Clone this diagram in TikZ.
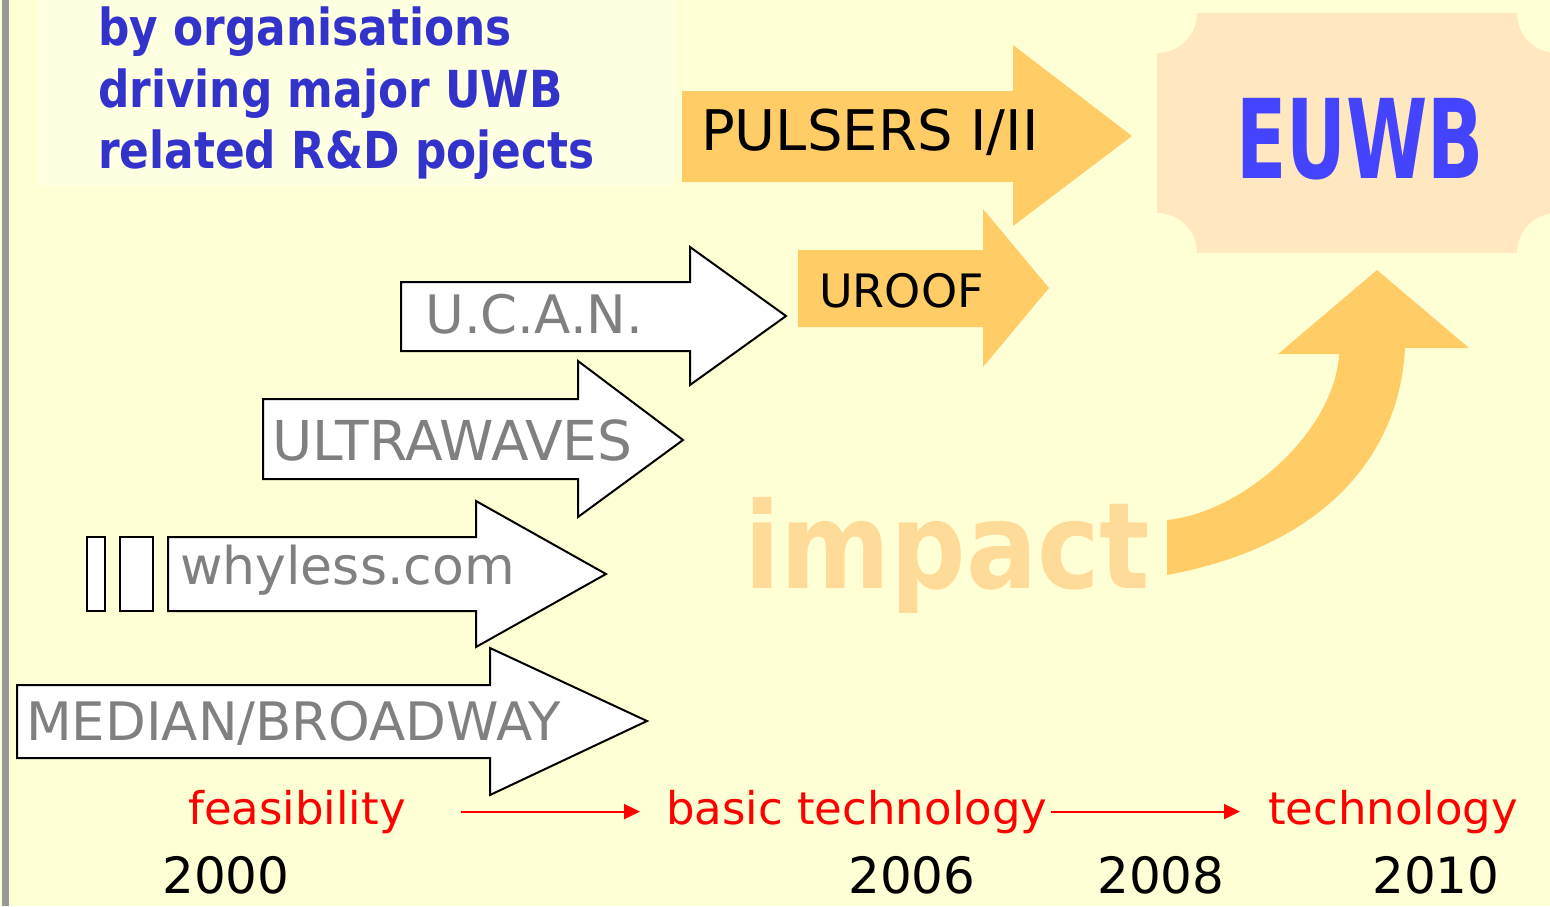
\documentclass[tikz,border=0pt]{standalone}
\usepackage{fontspec}
\setmainfont{DejaVu Sans}
\newfontfamily\headfont[FakeStretch=0.86]{DejaVu Sans}
\newfontfamily\euwbfont[FakeStretch=0.67]{DejaVu Sans}
\newfontfamily\impactfont[FakeStretch=0.88]{DejaVu Sans}
\usepackage{xcolor}
\usepackage{tikz}
\usetikzlibrary{positioning}
\usetikzlibrary{arrows.meta}

\definecolor{bgyellow}{RGB}{255,255,213}
\definecolor{boxyellow}{RGB}{255,255,226}
\definecolor{projorange}{RGB}{255,204,102}
\definecolor{euwbpeach}{RGB}{255,232,192}
\definecolor{impactorange}{RGB}{255,219,153}
\definecolor{headblue}{RGB}{51,51,204}
\definecolor{euwbblue}{RGB}{68,68,255}
\definecolor{projgray}{RGB}{128,128,128}

\begin{document}
\begin{tikzpicture}[x=1pt,y=-1pt]
        \tikzset{txt/.style = {anchor=base west, inner sep=0pt}}
        \tikzset{headtext/.style = {txt, text=headblue, font=\headfont\bfseries\fontsize{51}{60}\selectfont}}
        \tikzset{projtext/.style = {txt, text=projgray, font=\fontsize{53}{60}\selectfont}}
        \tikzset{phasetext/.style = {txt, text=red, font=\fontsize{45}{54}\selectfont}}
        \tikzset{yeartext/.style = {txt, font=\fontsize{50}{58}\selectfont}}
        \tikzset{whitearrow/.style = {fill=white, draw=black, line width=2pt}}
        \tikzset{orangearrow/.style = {fill=projorange}}
        \tikzset{phaseedge/.style = {red, line width=2pt, -{Triangle[length=16pt,width=15pt]}}}

        % background
        \useasboundingbox (0,0) rectangle (1550,906);
        \fill[bgyellow] (0,0) rectangle (1550,906);
        \fill[gray!80] (2,0) rectangle (9,906);
        \fill[boxyellow] (38,0) rectangle (675,186);

        % heading
        \node[headtext] (head1) at (98,45) {by organisations};
        \node[headtext] (head2) at (98,107) {driving major UWB};
        \node[headtext] (head3) at (98,168) {related R\&D pojects};

        % EUWB
        \fill[euwbpeach] (1157,13) rectangle (1557,253);
        \fill[bgyellow] (1157,13) circle (40) (1557,13) circle (40) (1157,253) circle (40) (1557,253) circle (40);
        \node[txt, text=euwbblue, font=\euwbfont\bfseries\fontsize{110}{120}\selectfont] (euwb) at (1236,178) {EUWB};

        % orange projects
        \fill[orangearrow] (682,91) -- (1013,91) -- (1013,45) -- (1132,136) -- (1013,226) -- (1013,182) -- (682,182) -- cycle;
        \node[txt, font=\fontsize{56}{64}\selectfont] (pulsers) at (701,150) {PULSERS I/II};
        \fill[orangearrow] (798,250) -- (983,250) -- (983,209) -- (1049,288) -- (983,367) -- (983,327) -- (798,327) -- cycle;
        \node[txt, font=\fontsize{46}{54}\selectfont] (uroof) at (819,307) {UROOF};

        % white projects
        \draw[whitearrow] (401,282) -- (690,282) -- (690,247) -- (786,316) -- (690,385) -- (690,351) -- (401,351) -- cycle;
        \node[projtext] (ucan) at (425,333) {U.C.A.N.};
        \draw[whitearrow] (263,399) -- (578,399) -- (578,361) -- (683,440) -- (578,517) -- (578,479) -- (263,479) -- cycle;
        \node[projtext, font=\fontsize{55}{60}\selectfont] (ultra) at (272,460) {ULTRAWAVES};
        \draw[whitearrow] (87,537) rectangle (105,611);
        \draw[whitearrow] (120,537) rectangle (153,611);
        \draw[whitearrow] (168,537) -- (476,537) -- (476,501) -- (606,574) -- (476,647) -- (476,611) -- (168,611) -- cycle;
        \node[projtext, font=\fontsize{52}{60}\selectfont] (whyless) at (180,584) {whyless.com};
        \draw[whitearrow] (17,685) -- (490,685) -- (490,648) -- (647,721) -- (490,795) -- (490,758) -- (17,758) -- cycle;
        \node[projtext] (median) at (26,740) {MEDIAN/BROADWAY};

        % impact
        \node[txt, text=impactorange, font=\impactfont\bfseries\fontsize{120}{130}\selectfont] (impact) at (744,588) {impact};
        \fill[orangearrow] (1167,520) -- (1167,575) .. controls (1330,545) and (1400,450) .. (1405,348)
            -- (1469,348) -- (1377,270) -- (1278,354) -- (1339,354) .. controls (1335,430) and (1245,512) .. (1167,520) -- cycle;

        % phases
        \node[phasetext] (feas) at (188,824) {feasibility};
        \node[phasetext] (basic) at (666,824) {basic technology};
        \node[phasetext] (tech) at (1268,824) {technology};
        \draw[phaseedge, shorten <=55pt, shorten >=26pt] (feas) -- (basic);
        \draw[phaseedge, shorten <=4pt, shorten >=28pt] (basic) -- (tech);

        % years
        \node[yeartext] (y2000) at (162,893) {2000};
        \node[yeartext] (y2006) at (848,893) {2006};
        \node[yeartext] (y2008) at (1097,893) {2008};
        \node[yeartext] (y2010) at (1372,893) {2010};
        
        \end{tikzpicture}
\end{document}
